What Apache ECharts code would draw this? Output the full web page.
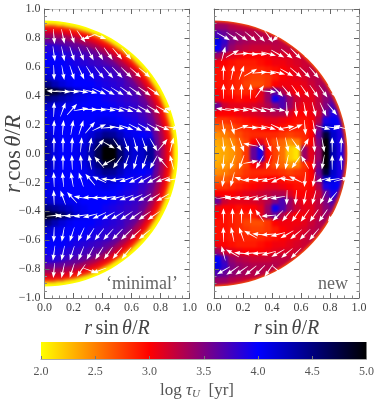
<!DOCTYPE html>
<html>
<head>
<meta charset="utf-8">
<style>
  html, body { margin: 0; background: #fff; }
  .layer { position: absolute; left: 0; top: 0; width: 374px; height: 405px; }
  #field { filter: blur(1.5px); }
</style>
<script src="https://cdn.jsdelivr.net/npm/echarts@6/dist/echarts.min.js"></script>
</head>
<body>
<div id="field" class="layer"></div>
<div id="output" class="layer"></div>
<script>
// log tau_U per 0.05 cell, rows from y = 0.925 down to the equator, mirrored below it
const minimalRows = [
  [3.6, 3.6, 3.6, 3.6],
  [3.6, 3.6, 3.6, 3.6, 3.6, 3.6, 3.6, 3.6],
  [3.6, 3.6, 3.6, 3.55, 3.55, 3.5, 3.5, 3.5, 3.5, 3.5],
  [3.75, 3.75, 3.7, 3.65, 3.6, 3.55, 3.5, 3.5, 3.5, 3.4, 3.4],
  [3.85, 3.85, 3.8, 3.75, 3.7, 3.65, 3.6, 3.55, 3.5, 3.5, 3.4, 3.3],
  [3.95, 3.95, 3.9, 3.85, 3.8, 3.75, 3.7, 3.65, 3.6, 3.55, 3.5, 3.45, 3.4, 3.3],
  [4.0, 4.0, 4.0, 3.95, 3.9, 3.85, 3.8, 3.75, 3.7, 3.65, 3.6, 3.5, 3.45, 3.4],
  [4.1, 4.05, 4.0, 4.0, 3.95, 3.95, 3.9, 3.85, 3.8, 3.75, 3.7, 3.6, 3.55, 3.45, 3.4],
  [4.2, 4.1, 4.05, 4.0, 4.0, 4.0, 3.95, 3.9, 3.85, 3.8, 3.75, 3.7, 3.6, 3.5, 3.4, 3.3],
  [4.5, 4.3, 4.15, 4.05, 4.0, 4.0, 4.0, 3.95, 3.9, 3.85, 3.8, 3.7, 3.65, 3.55, 3.45, 3.35, 3.2],
  [4.9, 4.8, 4.6, 4.4, 4.2, 4.1, 4.05, 4.0, 3.95, 3.9, 3.85, 3.75, 3.7, 3.6, 3.5, 3.4, 3.2],
  [4.5, 4.4, 4.3, 4.2, 4.1, 4.05, 4.0, 4.0, 3.95, 3.9, 3.85, 3.8, 3.75, 3.65, 3.55, 3.45, 3.3, 3.2],
  [4.2, 4.15, 4.1, 4.05, 4.05, 4.0, 4.0, 4.0, 4.0, 3.95, 3.9, 3.85, 3.8, 3.7, 3.6, 3.5, 3.4, 3.2],
  [4.1, 4.05, 4.0, 4.0, 4.0, 4.0, 4.0, 4.0, 4.0, 4.0, 3.95, 3.9, 3.85, 3.75, 3.65, 3.55, 3.4, 3.2],
  [4.1, 4.05, 4.0, 4.0, 4.0, 4.0, 4.0, 4.05, 4.1, 4.05, 4.0, 3.95, 3.9, 3.8, 3.7, 3.6, 3.4, 3.2],
  [4.1, 4.0, 4.0, 4.0, 4.0, 4.0, 4.05, 4.1, 4.2, 4.2, 4.1, 4.0, 3.95, 3.9, 3.8, 3.7, 3.5, 3.3, 3.1],
  [4.2, 4.05, 4.0, 4.0, 4.0, 4.05, 4.15, 4.3, 4.45, 4.4, 4.25, 4.1, 4.05, 4.0, 3.95, 3.8, 3.3, 3.2, 3.0],
  [4.3, 4.1, 4.0, 4.0, 4.0, 4.1, 4.25, 4.5, 4.75, 4.7, 4.4, 4.2, 4.1, 4.1, 4.2, 4.2, 3.2, 3.0, 3.0],
  [4.3, 4.1, 4.0, 4.0, 4.05, 4.15, 4.35, 4.7, 5.0, 5.0, 4.6, 4.3, 4.15, 4.2, 4.4, 4.4, 3.0, 2.85, 2.9]
]
const newRows = [
  [3.3, 3.2, 3.1, 3.0],
  [3.4, 3.4, 3.3, 3.25, 3.2, 3.2, 3.2, 3.1],
  [3.7, 3.6, 3.45, 3.4, 3.35, 3.3, 3.3, 3.25, 3.2, 3.1],
  [4.1, 3.8, 3.5, 3.4, 3.35, 3.3, 3.3, 3.3, 3.3, 3.25, 3.15],
  [4.0, 3.7, 3.4, 3.3, 3.25, 3.2, 3.2, 3.2, 3.25, 3.25, 3.25, 3.2],
  [3.4, 3.2, 3.1, 3.05, 3.0, 3.0, 3.0, 3.05, 3.1, 3.15, 3.15, 3.2, 3.2, 3.2],
  [3.05, 3.0, 2.95, 2.9, 2.9, 2.9, 2.95, 3.0, 3.05, 3.05, 3.1, 3.15, 3.2, 3.25],
  [2.95, 2.95, 2.9, 2.9, 2.85, 2.85, 2.85, 2.9, 2.95, 3.0, 3.05, 3.1, 3.2, 3.25, 3.3],
  [2.95, 2.95, 2.9, 2.85, 2.8, 2.75, 2.75, 2.8, 2.9, 3.0, 3.05, 3.1, 3.15, 3.25, 3.3, 3.3],
  [2.95, 2.95, 2.9, 2.85, 2.75, 2.7, 2.7, 2.8, 3.0, 3.05, 3.05, 3.05, 3.1, 3.2, 3.3, 3.4, 3.4],
  [3.0, 2.95, 2.9, 2.85, 2.85, 2.9, 3.1, 3.4, 3.6, 3.3, 3.1, 3.0, 3.05, 3.1, 3.25, 3.4, 3.5],
  [3.05, 3.0, 3.0, 2.95, 3.0, 3.0, 3.1, 3.4, 3.95, 3.7, 3.4, 3.2, 3.1, 3.1, 3.25, 3.45, 3.6, 3.5],
  [3.6, 3.2, 3.1, 3.1, 3.1, 3.15, 3.2, 3.3, 3.5, 3.7, 3.4, 3.15, 3.05, 3.1, 3.25, 3.5, 3.7, 3.6],
  [3.0, 3.0, 3.0, 3.05, 3.1, 3.15, 3.2, 3.25, 3.3, 3.3, 3.15, 3.0, 3.0, 3.05, 3.2, 3.6, 3.9, 3.8],
  [2.8, 2.8, 2.85, 2.9, 2.95, 3.0, 3.05, 3.1, 3.1, 3.05, 3.0, 2.95, 2.95, 3.0, 3.3, 3.9, 4.05, 4.0],
  [2.6, 2.65, 2.7, 2.8, 2.85, 2.9, 2.95, 3.0, 3.0, 2.95, 2.9, 2.9, 2.9, 3.0, 3.5, 4.2, 4.1, 3.9, 3.7],
  [2.45, 2.5, 2.6, 2.7, 2.8, 2.85, 2.85, 2.85, 2.85, 2.8, 2.75, 2.8, 2.85, 3.0, 3.6, 4.8, 4.2, 3.9, 3.7],
  [2.35, 2.4, 2.45, 2.6, 2.75, 3.0, 3.1, 2.85, 2.7, 2.6, 2.4, 2.5, 2.8, 3.0, 3.5, 5.0, 4.2, 3.9, 3.6],
  [2.3, 2.35, 2.4, 2.55, 2.8, 3.6, 3.9, 3.0, 2.75, 2.55, 2.2, 2.1, 3.4, 3.1, 3.4, 5.0, 4.3, 3.9, 3.6]
]
// rim shells: outer radius, inner radius, log tau_U
const minimalRim = [
  [0.97, 0.893, 2.0], [0.893, 0.878, 2.4], [0.878, 0.855, 2.9],
  [0.855, 0.83, 3.1], [0.83, 0.795, 3.35], [0.795, 0.76, 3.6]
]
const newRim = [[0.97, 0.91, 2.6], [0.91, 0.9, 3.2]]
const rimRadius = 0.92

// arrow directions in degrees (0 = right, 90 = up), one row per height
const arrowY = [0.81, 0.69, 0.56, 0.43, 0.305, 0.18, 0.06]
const minimalAngles = [
  [-85, -78, -72, -55, 200, -20],
  [-82, -78, -72, -68, -62, -58, -55, -50, -50],
  [-88, -80, -72, -65, -58, -52, -48, -46, -44, -42, -40],
  [175, -5, -5, -8, -15, -25, -30, -32, -35, -35, -35, -35],
  [88, 70, 48, 10, 0, -4, -10, -15, -20, -25, -30, -32, -30, 170],
  [88, 85, 80, 72, 50, 25, 5, -10, -20, -28, -30, -30, -22, -8],
  [90, 90, 88, 85, 80, 50, -30, -55, -70, -75, -70, -60, 50, 75]
]
const newAngles = [
  [-30, -35, -35, -40, -45, -55, -140],
  [75, 30, 5, -5, -5, -15, -30, -40, -45, -45],
  [88, 78, 70, 30, 5, -5, -15, -30, -40, -45, -50, -50],
  [90, 90, 90, 88, 55, -5, -45, -50, -55, -55, -55, -55, -55],
  [170, -8, -10, -15, -20, -15, -10, -88, -85, -80, -75, -65, -50],
  [-80, -75, 20, -3, -8, -15, -25, 10, 25, -85, -80, -15, -8, 165],
  [-85, -70, -70, 170, -60, -70, -80, -78, -55, 60, -85, -80, 90, 88]
]

const colormap = ['#ffff00', '#ff0000', '#0000ff', '#000000']
const serif = '"Liberation Serif", "DejaVu Serif", serif'

const panels = [
  { left: 44.5, rows: minimalRows, rim: minimalRim, angles: minimalAngles },
  { left: 214, rows: newRows, rim: newRim, angles: newAngles }
]

function fieldCells (rows) {
  const cells = []
  rows.forEach((row, j) => {
    const y = 0.925 - 0.05 * j
    row.forEach((v, i) => {
      const x = 0.025 + 0.05 * i
      cells.push([x, y, v], [x, -y, v])
      // repeat the first column past the axis so the blur does not fade at x = 0
      if (i === 0) cells.push([-x, y, v], [-x, -y, v])
    })
  })
  return cells
}

function arrowData (angles) {
  const arrows = []
  angles.forEach((row, j) => {
    row.forEach((a, i) => {
      const x = 0.065 + 0.0625 * i
      arrows.push([x, arrowY[j], a], [x, -arrowY[j], 180 - a])
    })
  })
  return arrows
}

function renderCell (params, api) {
  const c = api.coord([api.value(0), api.value(1)])
  const s = api.size([0.05, 0.05])
  return {
    type: 'rect',
    shape: { x: c[0] - s[0] / 2 - 0.5, y: c[1] - s[1] / 2 - 0.5, width: s[0] + 1, height: s[1] + 1 },
    style: { fill: api.visual('color') }
  }
}

function renderShell (params, api) {
  const c = api.coord([0, 0])
  return {
    type: 'sector',
    shape: {
      cx: c[0], cy: c[1],
      r: api.size([api.value(0), 0])[0],
      r0: api.size([api.value(1), 0])[0],
      startAngle: -Math.PI / 2 - 0.05,
      endAngle: Math.PI / 2 + 0.05,
      clockwise: true
    },
    style: { fill: api.visual('color') }
  }
}

function renderArrow (params, api) {
  const c = api.coord([api.value(0), api.value(1)])
  const a = api.value(2) * Math.PI / 180
  const ux = Math.cos(a)
  const uy = -Math.sin(a)
  const pt = (along, side) => [c[0] + ux * along - uy * side, c[1] + uy * along + ux * side]
  return {
    type: 'polygon',
    shape: { points: [pt(-7.5, -0.25), pt(2, -0.6), pt(1.5, -2.2), pt(7.5, 0), pt(1.5, 2.2), pt(2, 0.6), pt(-7.5, 0.25)] },
    style: { fill: '#fff' }
  }
}

// white cover outside the star, so the blurred field keeps a clean edge
function renderMask (params, api) {
  const R = api.value(0)
  const points = [[-0.12, 1], [1, 1], [1, -1], [-0.12, -1], [-0.12, 0], [0, 0]]
  for (let d = -90; d <= 90; d += 3) {
    points.push([R * Math.cos(d * Math.PI / 180), R * Math.sin(d * Math.PI / 180)])
  }
  points.push([0, 0], [-0.12, 0])
  return {
    type: 'polygon',
    shape: { points: points.map(p => api.coord(p)) },
    style: { fill: '#fff' }
  }
}

function renderBar (params, api) {
  const a = api.coord([api.value(0), 0])
  const b = api.coord([api.value(1), 1])
  return {
    type: 'rect',
    shape: { x: a[0], y: b[1], width: b[0] - a[0], height: a[1] - b[1] },
    style: {
      fill: new echarts.graphic.LinearGradient(0, 0, 1, 0, colormap.map((color, i) => ({
        offset: i / (colormap.length - 1), color
      })))
    }
  }
}

function panelAxis (gridIndex, position, color, extra) {
  const horizontal = position === 'bottom' || position === 'top'
  return Object.assign({
    type: 'value',
    gridIndex,
    position,
    min: horizontal ? 0 : -1,
    max: 1,
    interval: 0.2,
    axisLine: { onZero: false, lineStyle: { color, width: 1 } },
    axisTick: { inside: true, length: 5, lineStyle: { color: '#666' } },
    minorTick: { show: true, splitNumber: 4, length: 2.5, lineStyle: { color: '#888' } },
    splitLine: { show: false },
    axisLabel: { show: false }
  }, extra)
}

const tickLabel = {
  show: true,
  margin: 4,
  fontFamily: serif,
  fontSize: 12,
  color: '#444',
  formatter: v => (v < 0 ? '−' : '') + Math.abs(v).toFixed(1)
}
const xNameRich = {
  i: { fontFamily: serif, fontStyle: 'italic', fontSize: 20, color: '#444' },
  t: { fontFamily: serif, fontSize: 20, color: '#444' }
}

// field layer
const fieldChart = echarts.init(document.getElementById('field'))
fieldChart.setOption({
  animation: false,
  grid: panels.map(p => ({ left: p.left, top: 9, width: 145, height: 289, outerBoundsMode: 'none' })),
  xAxis: panels.map((p, i) => ({ type: 'value', gridIndex: i, min: 0, max: 1, show: false })),
  yAxis: panels.map((p, i) => ({ type: 'value', gridIndex: i, min: -1, max: 1, show: false })),
  visualMap: { show: false, min: 2, max: 5, dimension: 2, inRange: { color: colormap } },
  series: panels.flatMap((p, i) => [
    { type: 'custom', xAxisIndex: i, yAxisIndex: i, renderItem: renderCell, data: fieldCells(p.rows), z: 1 },
    { type: 'custom', xAxisIndex: i, yAxisIndex: i, renderItem: renderShell, data: p.rim, z: 2 }
  ])
})

// axes, arrows and text layer
const chart = echarts.init(document.getElementById('output'))
chart.setOption({
  animation: false,
  grid: [
    { left: 44.5, top: 9, width: 145, height: 289, outerBoundsMode: 'none' },
    { left: 214, top: 9, width: 145, height: 289, outerBoundsMode: 'none' },
    { left: 41, top: 342, width: 325.5, height: 17, outerBoundsMode: 'none' }
  ],
  xAxis: [
    panelAxis(0, 'bottom', '#777', {
      axisLabel: tickLabel,
      name: '{i|r} {t|sin} {i|θ}{t|/}{i|R}',
      nameLocation: 'middle',
      nameGap: 18,
      nameTextStyle: { rich: xNameRich }
    }),
    panelAxis(0, 'top', '#ccc'),
    panelAxis(1, 'bottom', '#777', {
      axisLabel: tickLabel,
      name: '{i|r} {t|sin} {i|θ}{t|/}{i|R}',
      nameLocation: 'middle',
      nameGap: 18,
      nameTextStyle: { rich: xNameRich }
    }),
    panelAxis(1, 'top', '#aaa'),
    {
      type: 'value',
      gridIndex: 2,
      min: 2,
      max: 5,
      interval: 0.5,
      axisLine: { onZero: false, lineStyle: { color: '#aaa' } },
      axisTick: { inside: true, length: 3, lineStyle: { color: '#777' } },
      splitLine: { show: false },
      axisLabel: { margin: 7, fontFamily: serif, fontSize: 12, color: '#555', formatter: v => v.toFixed(1) }
    }
  ],
  yAxis: [
    panelAxis(0, 'left', '#888', { axisLabel: tickLabel }),
    panelAxis(0, 'right', '#bbb'),
    panelAxis(1, 'left', '#777'),
    panelAxis(1, 'right', '#999'),
    { type: 'value', gridIndex: 2, min: 0, max: 1, show: false }
  ],
  graphic: [
    {
      type: 'text', x: 14, y: 154, rotation: Math.PI / 2, silent: true,
      style: {
        text: '{i|r} {t|cos} {i|θ}{t|/}{i|R}',
        align: 'center',
        verticalAlign: 'middle',
        rich: {
          i: { fontFamily: serif, fontStyle: 'italic', fontSize: 23, fill: '#444' },
          t: { fontFamily: serif, fontSize: 23, fill: '#444' }
        }
      }
    },
    {
      type: 'text', right: 196, top: 275, silent: true,
      style: { text: '‘minimal’', fontFamily: serif, fontSize: 18, fill: '#666' }
    },
    {
      type: 'text', right: 26, top: 275, silent: true,
      style: { text: 'new', fontFamily: serif, fontSize: 18, fill: '#666' }
    },
    {
      type: 'text', left: 160, top: 382, silent: true,
      style: {
        text: '{t|log }{i|τ}{s|U}{t|  [yr]}',
        rich: {
          t: { fontFamily: serif, fontSize: 17, fill: '#555' },
          i: { fontFamily: serif, fontSize: 17, fontStyle: 'italic', fill: '#555' },
          s: { fontFamily: serif, fontSize: 11, fontStyle: 'italic', fill: '#555', padding: [7, 0, 0, 0] }
        }
      }
    }
  ],
  series: [
    { type: 'custom', xAxisIndex: 0, yAxisIndex: 0, renderItem: renderMask, data: [[rimRadius]], z: -1, silent: true },
    { type: 'custom', xAxisIndex: 2, yAxisIndex: 2, renderItem: renderMask, data: [[rimRadius]], z: -1, silent: true },
    { type: 'custom', xAxisIndex: 0, yAxisIndex: 0, renderItem: renderArrow, data: arrowData(panels[0].angles), z: 5 },
    { type: 'custom', xAxisIndex: 2, yAxisIndex: 2, renderItem: renderArrow, data: arrowData(panels[1].angles), z: 5 },
    { type: 'custom', xAxisIndex: 4, yAxisIndex: 4, renderItem: renderBar, data: [[2, 5]], z: -1 }
  ]
})
</script>
</body>
</html>
